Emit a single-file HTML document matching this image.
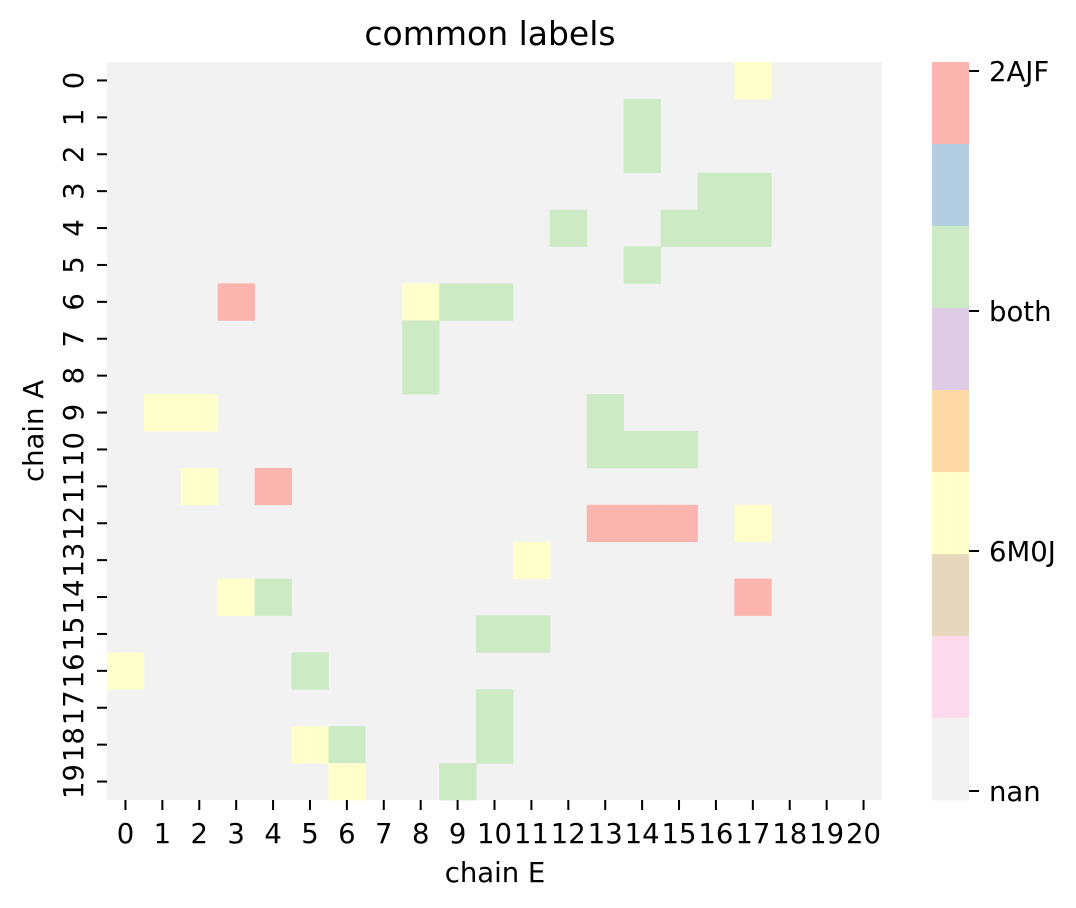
<!DOCTYPE html>
<html><head><meta charset="utf-8"><style>
html,body{margin:0;padding:0;background:#fff;}
svg{display:block;font-family:"DejaVu Sans","Liberation Sans",sans-serif;}
</style></head><body>
<svg id="c" width="1076" height="908">
<text x="490" y="45" font-size="33" text-anchor="middle">common labels</text>
<text x="495" y="882" font-size="27.5" text-anchor="middle">chain E</text>
<text transform="translate(43,431) rotate(-90)" font-size="27.5" text-anchor="middle">chain A</text>
<g id="cells"></g><g id="xt"></g><g id="yt"></g><g id="cb"></g>
</svg>
<script>
const xCategories = Array.from({length:21},(_, i)=>String(i));
const yCategories = Array.from({length:20},(_, i)=>String(i));
const legendLabels = ["2AJF","both","6M0J","nan"];
const paletteColors = ["#fbb4ae","#b3cde3","#ccebc5","#decbe4","#fed9a6","#ffffcc","#e5d8bd","#fddaec","#f2f2f2"];
// cells: [row, col, category]
const cellValues = [
[0,17,"6M0J"],[1,14,"both"],[2,14,"both"],[3,16,"both"],[3,17,"both"],
[4,12,"both"],[4,15,"both"],[4,16,"both"],[4,17,"both"],[5,14,"both"],
[6,3,"2AJF"],[6,8,"6M0J"],[6,9,"both"],[6,10,"both"],[7,8,"both"],[8,8,"both"],
[9,1,"6M0J"],[9,2,"6M0J"],[9,13,"both"],[10,13,"both"],[10,14,"both"],[10,15,"both"],
[11,2,"6M0J"],[11,4,"2AJF"],[12,13,"2AJF"],[12,14,"2AJF"],[12,15,"2AJF"],[12,17,"6M0J"],
[13,11,"6M0J"],[14,3,"6M0J"],[14,4,"both"],[14,17,"2AJF"],[15,10,"both"],[15,11,"both"],
[16,0,"6M0J"],[16,5,"both"],[17,10,"both"],[18,5,"6M0J"],[18,6,"both"],[18,10,"both"],
[19,6,"6M0J"],[19,9,"both"]];
const catColor = {"2AJF":"#fbb4ae","both":"#ccebc5","6M0J":"#ffffcc","nan":"#f2f2f2"};
const NS="http://www.w3.org/2000/svg";
const X0=107,X1=882,Y0=62,Y1=800;
const cw=(X1-X0)/xCategories.length, ch=(Y1-Y0)/yCategories.length;
const xs=i=>X0+i*cw, ys=i=>Y0+i*ch;
function mk(t,a,p){const e=document.createElementNS(NS,t);for(const k in a)e.setAttribute(k,a[k]);p.appendChild(e);return e;}
const cells=document.getElementById('cells');
const bg=mk('rect',{x:X0,y:Y0,width:X1-X0,height:Y1-Y0,fill:catColor.nan},cells);


cellValues.forEach(([r,c,v])=>{
 const e=mk('rect',{x:xs(c),y:ys(r),width:cw+0.4,height:ch+0.4,fill:catColor[v]},cells);
 
 
});
const xt=document.getElementById('xt');
xCategories.forEach((l,i)=>{
 const cx=xs(i)+cw/2;
 mk('line',{x1:cx,x2:cx,y1:Y1,y2:Y1+10,stroke:'#000','stroke-width':2},xt);
 const t=mk('text',{x:cx,y:Y1+43,'font-size':27.5,'text-anchor':'middle'},xt);t.textContent=l;
 
 
});
const yt=document.getElementById('yt');
yCategories.forEach((l,i)=>{
 const cy=ys(i)+ch/2;
 mk('line',{x1:X0-10,x2:X0,y1:cy,y2:cy,stroke:'#000','stroke-width':2},yt);
 const t=mk('text',{transform:`translate(${X0-24},${cy}) rotate(-90)`,'font-size':27.5,'text-anchor':'middle'},yt);t.textContent=l;
 
 
});
const cb=document.getElementById('cb');
const CX=932,CW=37,n=paletteColors.length,sh=(Y1-Y0)/n;
paletteColors.forEach((c,i)=>{
 const e=mk('rect',{x:CX,y:Y0+i*sh,width:CW,height:sh+0.4,fill:c},cb);
 
 
});
const span=Y1-Y0-18;
legendLabels.forEach((l,i)=>{
 const y=Y0+9+i*span/(legendLabels.length-1);
 mk('line',{x1:CX+CW,x2:CX+CW+10,y1:y,y2:y,stroke:'#000','stroke-width':2},cb);
 const t=mk('text',{x:CX+CW+20,y:y+10,'font-size':27.5},cb);t.textContent=l;
 
 
});
</script>
</body></html>
